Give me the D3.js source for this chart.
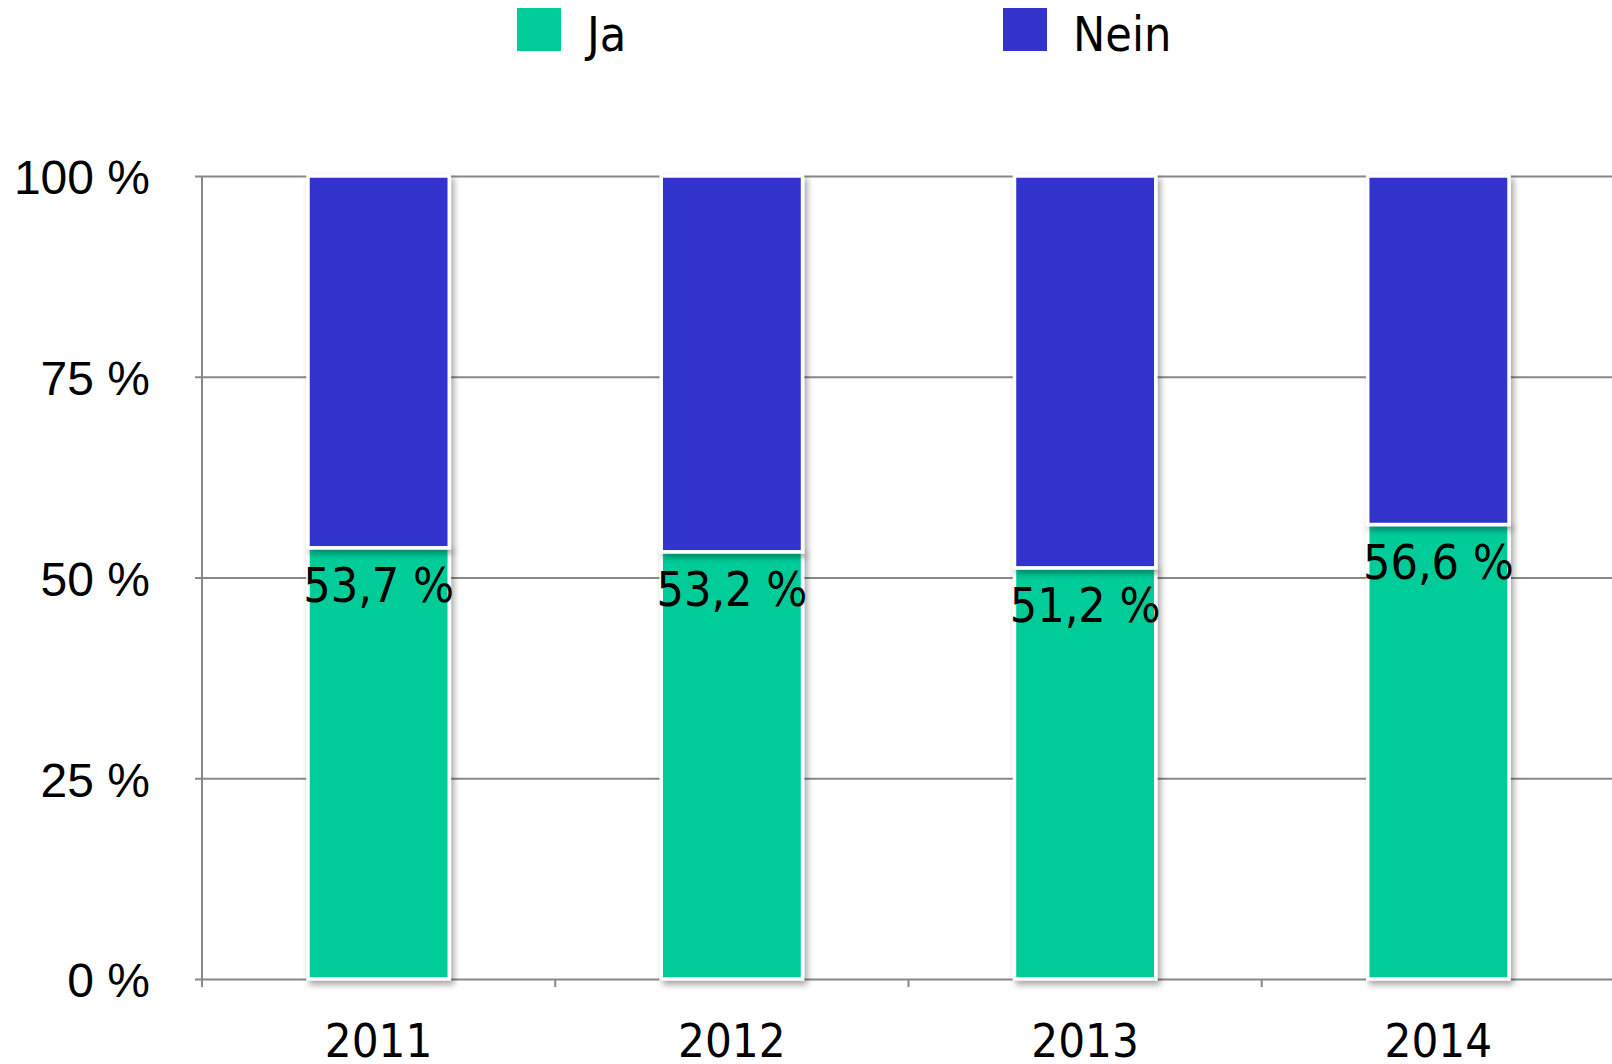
<!DOCTYPE html>
<html>
<head>
<meta charset="utf-8">
<script src="https://cdn.jsdelivr.net/npm/d3@7"></script>
<style>
  html, body { margin: 0; padding: 0; background: #ffffff; }
  svg { display: block; font-family: "DejaVu Sans Condensed", "DejaVu Sans", sans-serif; }
</style>
</head>
<body>
<svg id="chart"></svg>
<script>
const years = ["2011", "2012", "2013", "2014"];
const jaValues = [53.7, 53.2, 51.2, 56.6];
const neinValues = [46.3, 46.8, 48.8, 43.4];
const seriesNames = ["Ja", "Nein"];
const seriesColors = ["#00cc99", "#3333cc"];
const yTicks = [0, 25, 50, 75, 100];

const width = 1612;
const height = 1064;
const margin = { top: 176, right: -3, bottom: 85, left: 202 };
const chartWidth = width - margin.left - margin.right;
const chartHeight = height - margin.top - margin.bottom;

const rows = years.map(function (year, i) {
  return { year: year, Ja: jaValues[i], Nein: neinValues[i] };
});

const svg = d3.select("#chart").attr("width", width).attr("height", height);

const defs = svg.append("defs");
const shadow = defs.append("filter").attr("id", "shadow")
  .attr("x", "-10%").attr("y", "-10%").attr("width", "130%").attr("height", "130%");
shadow.append("feDropShadow")
  .attr("dx", 3).attr("dy", 4).attr("stdDeviation", 3)
  .attr("flood-color", "#000").attr("flood-opacity", 0.35);

const chart = svg.append("g")
  .attr("transform", "translate(" + margin.left + "," + margin.top + ")");

const xScale = d3.scaleBand()
  .domain(years)
  .range([0, chartWidth])
  .paddingInner(0.6)
  .paddingOuter(0.3);

const yScale = d3.scaleLinear().domain([0, 100]).range([chartHeight, 0]);

// grid lines + y axis
const yAxis = chart.append("g")
  .call(d3.axisLeft(yScale).tickValues(yTicks).tickSize(-chartWidth).tickPadding(52)
    .tickFormat(function (d) { return d + " %"; }));
yAxis.select(".domain").remove();
yAxis.selectAll(".tick line").attr("stroke", "#888888").attr("stroke-width", 2).attr("x1", -7);
yAxis.selectAll("text")
  .attr("fill", "#000")
  .attr("dy", "0.37em")
  .style("font-size", "48px");

chart.append("line")
  .attr("x1", 0).attr("x2", 0).attr("y1", 0).attr("y2", chartHeight + 8)
  .attr("stroke", "#888888").attr("stroke-width", 2);

// x axis
const xBoundaries = d3.range(years.length).map(function (i) {
  return xScale.step() * i;
});
chart.selectAll(".xtick")
  .data(xBoundaries)
  .enter()
  .append("line")
  .attr("class", "xtick")
  .attr("x1", function (d) { return d; })
  .attr("x2", function (d) { return d; })
  .attr("y1", chartHeight)
  .attr("y2", chartHeight + 8)
  .attr("stroke", "#888888")
  .attr("stroke-width", 2);

chart.selectAll(".xlabel")
  .data(years)
  .enter()
  .append("text")
  .attr("class", "xlabel")
  .attr("x", function (d) { return xScale(d) + xScale.bandwidth() / 2; })
  .attr("y", chartHeight + 78)
  .attr("text-anchor", "middle")
  .style("font-size", "47px")
  .text(function (d) { return d; });

// stacked bars
const stacked = d3.stack().keys(seriesNames)(rows);
const color = d3.scaleOrdinal().domain(seriesNames).range(seriesColors);

chart.append("g")
  .selectAll("g")
  .data(stacked)
  .enter()
  .append("g")
  .attr("fill", function (d) { return color(d.key); })
  .selectAll("rect")
  .data(function (d) { return d; })
  .enter()
  .append("rect")
  .attr("x", function (d) { return xScale(d.data.year); })
  .attr("y", function (d) { return yScale(d[1]); })
  .attr("width", xScale.bandwidth())
  .attr("height", function (d) { return yScale(d[0]) - yScale(d[1]); })
  .attr("stroke", "#ffffff")
  .attr("stroke-width", 3.5)
  .attr("filter", "url(#shadow)");

// value labels
chart.selectAll(".vlabel")
  .data(rows)
  .enter()
  .append("text")
  .attr("class", "vlabel")
  .attr("x", function (d) { return xScale(d.year) + xScale.bandwidth() / 2; })
  .attr("y", function (d) { return yScale(d.Ja) + 54; })
  .attr("text-anchor", "middle")
  .style("font-size", "48px")
  .text(function (d) { return String(d.Ja).replace(".", ",") + " %"; });

// legend
const legendX = [517, 1003];
const legend = svg.selectAll(".legend")
  .data(seriesNames)
  .enter()
  .append("g")
  .attr("class", "legend")
  .attr("transform", function (d, i) { return "translate(" + legendX[i] + ",8)"; });

legend.append("rect")
  .attr("width", 44)
  .attr("height", 43)
  .attr("fill", function (d) { return color(d); });

legend.append("text")
  .attr("x", 70)
  .attr("y", 43)
  .style("font-size", "48px")
  .text(function (d) { return d; });
</script>
</body>
</html>
